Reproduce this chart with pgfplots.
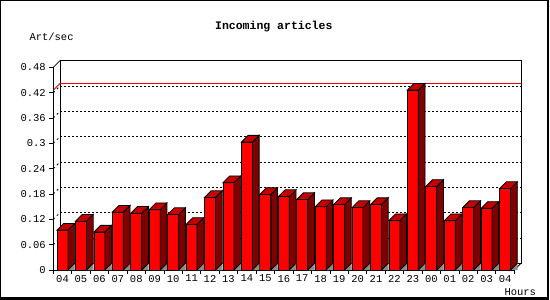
\documentclass[border=0pt]{standalone}
\usepackage{pgfplots}
\pgfplotsset{compat=1.18}
\usepackage{pgfplotstable}
\usepackage{fontspec}
\setmainfont{Liberation Mono}
\definecolor{barfront}{HTML}{FF0000}
\definecolor{bartop}{HTML}{C40000}
\definecolor{barside}{HTML}{800000}
\definecolor{shadowgray}{HTML}{8C8C8C}
\definecolor{maxred}{HTML}{E00000}

\pgfplotstableread{
x v
0.5 0.0945
1.5 0.1157
2.5 0.0898
3.5 0.137
4.5 0.1346
5.5 0.143
6.5 0.1315
7.5 0.108
8.5 0.1717
9.5 0.207
10.5 0.303
11.5 0.179
12.5 0.174
13.5 0.167
14.5 0.150
15.5 0.155
16.5 0.148
17.5 0.155
18.5 0.117
19.5 0.426
20.5 0.198
21.5 0.117
22.5 0.148
23.5 0.146
24.5 0.193
}\hourdata

\pgfdeclareplotmark{barthreed}{%
  \pgfmathsetlengthmacro\barH{\barval*422.2bp}%
  \fill[shadowgray] (5.5bp,-\barH) -- (12.2bp,-\barH) -- (12.2bp,{6.7bp-\barH}) -- cycle;
  \filldraw[fill=barside,draw=black,line width=0.8bp,line join=miter] (5.5bp,0pt) -- (12.2bp,6.7bp) -- (12.2bp,{6.7bp-\barH}) -- (5.5bp,-\barH) -- cycle;
  \filldraw[fill=bartop,draw=black,line width=0.8bp,line join=miter] (-5.5bp,0pt) -- (5.5bp,0pt) -- (12.2bp,6.7bp) -- (1.2bp,6.7bp) -- cycle;
}

\begin{document}
\begin{tikzpicture}
\useasboundingbox (0,0) rectangle (550bp,300bp);
\fill[white] (0,0) rectangle (550bp,300bp);
\begin{axis}[
  at={(53.3bp,30bp)}, anchor=origin,
  x=18.44bp, y=422.2bp,
  xmin=0, xmax=25, ymin=0, ymax=0.48,
  axis lines=left,
  axis line style={-, line width=1bp},
  clip=false,
  xtick={0.5,1.5,...,24.5},
  xticklabels={04,05,06,07,08,09,10,11,12,13,14,15,16,17,18,19,20,21,22,23,00,01,02,03,04},
  minor xtick={0,1,...,25},
  ytick={0,0.06,0.12,0.18,0.24,0.3,0.36,0.42,0.48},
  yticklabels={0,0.06,0.12,0.18,0.24,0.3,0.36,0.42,0.48},
  tick align=outside,
  major tick length=4bp, minor tick length=4bp,
  major x tick style={draw=none},
  tick style={black, line width=0.8bp},
  tick label style={font=\fontsize{10.5bp}{12bp}\selectfont, black},
  xticklabel style={yshift=2.5bp},
  /pgf/number format/assume math mode=true,
]
% back wall
\draw[line width=0.8bp] ([xshift=6.7bp,yshift=6.7bp]axis cs:0,0) rectangle ([xshift=6.7bp,yshift=6.7bp]axis cs:25,0.48);
\draw[line width=0.8bp] (axis cs:0,0.48) -- ([xshift=6.7bp,yshift=6.7bp]axis cs:0,0.48);
\draw[line width=0.8bp] (axis cs:25,0) -- ([xshift=6.7bp,yshift=6.7bp]axis cs:25,0);
\pgfplotsinvokeforeach{0.06,0.12,0.18,0.24,0.3,0.36,0.42}{
  \draw[black, line width=0.8bp, dash pattern=on 2bp off 2bp]
    ([xshift=6.7bp,yshift=6.7bp]axis cs:0,#1) -- ([xshift=6.7bp,yshift=6.7bp]axis cs:25,#1);
  \draw[black, line width=0.8bp, dash pattern=on 2bp off 3bp]
    (axis cs:0,#1) -- ([xshift=6.7bp,yshift=6.7bp]axis cs:0,#1);
}
% max line
\draw[maxred, line width=0.8bp] (axis cs:0,0.426) -- ([xshift=6.7bp,yshift=6.7bp]axis cs:0,0.426) -- ([xshift=6.7bp,yshift=6.7bp]axis cs:25,0.426);
% bars
\addplot[ybar, bar width=11bp, fill=barfront, draw=black, line width=0.8bp] table[x=x,y=v]{\hourdata};
\addplot[only marks, mark=barthreed,
  visualization depends on={rawy\as\barval}] table[x=x,y=v]{\hourdata};
\end{axis}
\node[font=\bfseries\fontsize{11.5bp}{13bp}\selectfont] at (273.8bp,273.5bp) {Incoming articles};
\node[font=\fontsize{10.5bp}{12bp}\selectfont, anchor=west, inner sep=0pt] at (29.3bp,263.3bp) {Art/sec};
\node[font=\fontsize{10.5bp}{12bp}\selectfont, anchor=west, inner sep=0pt] at (504.3bp,7.7bp) {Hours};
\draw[line width=1bp] (0.5bp,1.5bp) -- (0.5bp,299.5bp) -- (547.5bp,299.5bp);
\draw[line width=2bp] (547.5bp,300bp) -- (547.5bp,1.5bp) -- (0bp,1.5bp);
\end{tikzpicture}
\end{document}
